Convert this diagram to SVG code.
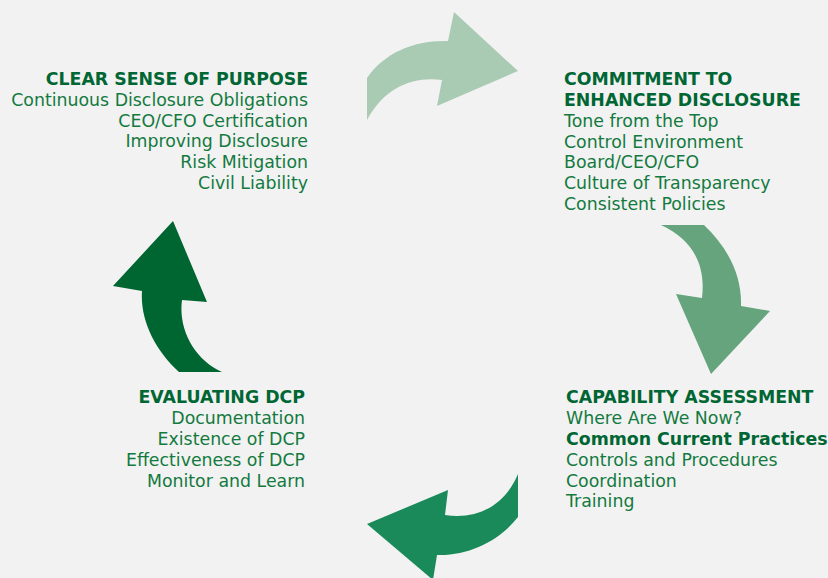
<svg xmlns="http://www.w3.org/2000/svg" width="828" height="578" viewBox="0 0 828 578">
<style>
text{font-family:"DejaVu Sans",Verdana,sans-serif;font-size:17.35px;fill:#137a3f}
.h{font-weight:bold;fill:#006633}
.r{text-anchor:end}
</style>
<rect width="828" height="578" fill="#f2f2f2"/>
<g id="connectors">
<path id="arrow-top" d="M367,78 C385,52 415,40 448,41 L454,12 L518,71 L437,106 L442,80 C415,76 385,86 367,120 Z" fill="#a9cbb4"/>
<path id="arrow-right" d="M661,225 L704,225 C728,248 742,275 741,306 L770,311 L711,374 L676,294 L702,298 C706,265 693,240 661,225 Z" fill="#65a47c"/>
<path id="arrow-bottom" d="M518,474 L518,517 C500,540 470,556 437,555 L433,580 L367,524 L448,490 L445,515 C478,520 505,505 518,474 Z" fill="#1a8a5a"/>
<path id="arrow-left" d="M173,221 L207,302 L182,300 C178,330 195,360 222,372 L179,372 C155,350 140,320 142,291 L113,286 Z" fill="#006631"/>
</g>
<g id="node-purpose">
<text class="h r" x="308" y="85">CLEAR SENSE OF PURPOSE</text>
<text class="r" x="308" y="106">Continuous Disclosure Obligations</text>
<text class="r" x="308" y="127">CEO/CFO Certification</text>
<text class="r" x="308" y="147">Improving Disclosure</text>
<text class="r" x="308" y="168">Risk Mitigation</text>
<text class="r" x="308" y="189">Civil Liability</text>
</g>
<g id="node-commitment">
<text class="h" x="564" y="85">COMMITMENT TO</text>
<text class="h" x="564" y="106">ENHANCED DISCLOSURE</text>
<text x="564" y="127">Tone from the Top</text>
<text x="564" y="148">Control Environment</text>
<text x="564" y="168">Board/CEO/CFO</text>
<text x="564" y="189">Culture of Transparency</text>
<text x="564" y="210">Consistent Policies</text>
</g>
<g id="node-capability">
<text class="h" x="566" y="403">CAPABILITY ASSESSMENT</text>
<text x="566" y="424">Where Are We Now?</text>
<text class="h" x="566" y="445">Common Current Practices</text>
<text x="566" y="466">Controls and Procedures</text>
<text x="566" y="487">Coordination</text>
<text x="566" y="507">Training</text>
</g>
<g id="node-evaluating">
<text class="h r" x="305" y="403">EVALUATING DCP</text>
<text class="r" x="305" y="424">Documentation</text>
<text class="r" x="305" y="445">Existence of DCP</text>
<text class="r" x="305" y="466">Effectiveness of DCP</text>
<text class="r" x="305" y="487">Monitor and Learn</text>
</g>
</svg>
